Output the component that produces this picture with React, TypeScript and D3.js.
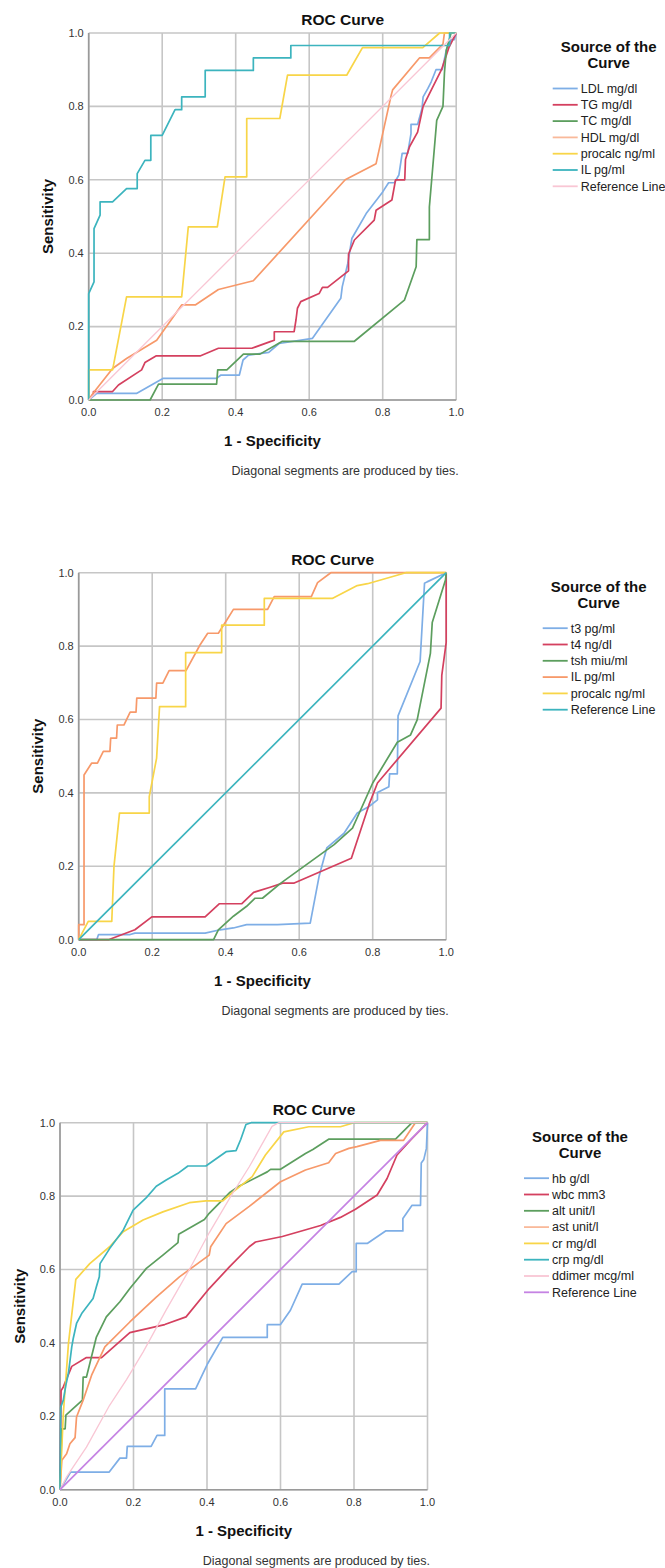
import React from "react";
import * as d3 from "d3";

type Pt = [number, number];

const FONT = "'Liberation Sans', Arial, sans-serif";
const TICKS = [0, 0.2, 0.4, 0.6, 0.8, 1.0];

// ---- panel 1: lipids ----
const ldlMg: Pt[] = [[0,0],[0.022,0.018],[0.13,0.018],[0.203,0.059],[0.348,0.059],[0.36,0.068],[0.41,0.068],[0.42,0.109],[0.435,0.122],[0.49,0.13],[0.518,0.154],[0.609,0.168],[0.686,0.277],[0.69,0.309],[0.705,0.372],[0.716,0.44],[0.755,0.508],[0.8,0.567],[0.816,0.592],[0.832,0.592],[0.844,0.613],[0.853,0.672],[0.868,0.672],[0.877,0.726],[0.877,0.751],[0.895,0.751],[0.907,0.794],[0.91,0.826],[0.923,0.849],[0.932,0.867],[0.945,0.9],[0.962,0.9],[0.973,0.953],[0.986,0.982],[0.995,0.982],[1,1]];
const tgMg: Pt[] = [[0,0],[0.013,0.018],[0.013,0.023],[0.065,0.023],[0.081,0.041],[0.144,0.082],[0.153,0.102],[0.183,0.12],[0.303,0.12],[0.353,0.141],[0.444,0.141],[0.494,0.159],[0.505,0.163],[0.505,0.186],[0.559,0.186],[0.564,0.218],[0.568,0.25],[0.577,0.268],[0.627,0.29],[0.636,0.307],[0.65,0.307],[0.707,0.352],[0.707,0.397],[0.723,0.436],[0.777,0.49],[0.782,0.517],[0.825,0.545],[0.835,0.6],[0.86,0.6],[0.862,0.655],[0.873,0.69],[0.895,0.73],[0.91,0.8],[0.93,0.84],[0.96,0.9],[0.98,0.96],[1,1]];
const tcMg: Pt[] = [[0,0],[0.167,0],[0.19,0.043],[0.348,0.043],[0.351,0.082],[0.376,0.082],[0.421,0.125],[0.466,0.125],[0.527,0.16],[0.723,0.16],[0.859,0.272],[0.891,0.363],[0.893,0.437],[0.927,0.437],[0.927,0.526],[0.947,0.762],[0.964,0.8],[0.968,0.891],[0.973,0.953],[0.986,1],[1,1]];
const hdlMg: Pt[] = [[0,0],[0.013,0.02],[0.065,0.086],[0.103,0.113],[0.185,0.163],[0.253,0.259],[0.29,0.259],[0.353,0.301],[0.448,0.325],[0.698,0.6],[0.782,0.644],[0.823,0.83],[0.827,0.845],[0.9,0.932],[0.927,0.932],[0.964,0.97],[0.968,1],[1,1]];
const procalc1: Pt[] = [[0,0],[0,0.082],[0.065,0.082],[0.103,0.281],[0.253,0.281],[0.271,0.472],[0.35,0.472],[0.371,0.608],[0.43,0.608],[0.43,0.767],[0.52,0.767],[0.541,0.885],[0.702,0.885],[0.745,0.96],[0.909,0.96],[0.955,1],[1,1]];
const il1: Pt[] = [[0,0],[0,0.29],[0.0145,0.322],[0.0145,0.467],[0.031,0.504],[0.031,0.54],[0.065,0.54],[0.103,0.576],[0.132,0.576],[0.132,0.617],[0.153,0.653],[0.169,0.653],[0.169,0.721],[0.2,0.721],[0.235,0.791],[0.253,0.791],[0.253,0.826],[0.317,0.826],[0.317,0.898],[0.448,0.898],[0.448,0.932],[0.55,0.932],[0.55,0.966],[0.982,0.966],[0.982,1],[1,1]];

// ---- panel 2: thyroid ----
const t3Pg: Pt[] = [[0,0],[0.049,0],[0.054,0.014],[0.14,0.014],[0.153,0.018],[0.344,0.018],[0.385,0.027],[0.421,0.032],[0.457,0.041],[0.541,0.041],[0.63,0.045],[0.654,0.172],[0.675,0.25],[0.722,0.29],[0.758,0.345],[0.79,0.363],[0.813,0.381],[0.813,0.401],[0.844,0.417],[0.846,0.452],[0.867,0.452],[0.869,0.61],[0.929,0.758],[0.941,0.971],[0.948,0.975],[1,1]];
const t4Ng: Pt[] = [[0,0],[0.081,0],[0.153,0.027],[0.199,0.062],[0.344,0.062],[0.383,0.098],[0.444,0.098],[0.476,0.129],[0.521,0.143],[0.555,0.154],[0.585,0.154],[0.742,0.222],[0.79,0.368],[0.813,0.427],[0.986,0.631],[0.988,0.72],[1,0.81],[1,1]];
const tshMiu: Pt[] = [[0,0],[0.367,0],[0.38,0.027],[0.421,0.064],[0.457,0.091],[0.48,0.113],[0.5,0.113],[0.55,0.154],[0.695,0.259],[0.745,0.304],[0.8,0.427],[0.867,0.538],[0.903,0.558],[0.921,0.599],[0.957,0.78],[0.962,0.864],[0.998,0.98],[1,1]];
const il2: Pt[] = [[0,0],[0,0.041],[0.0145,0.041],[0.0145,0.449],[0.035,0.481],[0.051,0.481],[0.067,0.513],[0.085,0.513],[0.087,0.549],[0.103,0.549],[0.105,0.585],[0.123,0.585],[0.14,0.62],[0.156,0.62],[0.158,0.658],[0.21,0.658],[0.212,0.699],[0.229,0.699],[0.246,0.733],[0.292,0.733],[0.33,0.803],[0.351,0.835],[0.38,0.835],[0.403,0.871],[0.421,0.9],[0.514,0.9],[0.532,0.935],[0.633,0.935],[0.65,0.973],[0.686,1],[1,1]];
const procalc2: Pt[] = [[0,0],[0.026,0.05],[0.09,0.05],[0.096,0.2],[0.111,0.345],[0.192,0.345],[0.192,0.39],[0.212,0.495],[0.22,0.635],[0.291,0.635],[0.291,0.782],[0.389,0.782],[0.389,0.857],[0.505,0.857],[0.505,0.93],[0.69,0.93],[0.758,0.965],[0.786,0.97],[0.89,1],[1,1]];

// ---- panel 3: blood markers ----
const hbG: Pt[] = [[0,0],[0.029,0.048],[0.134,0.048],[0.163,0.086],[0.181,0.086],[0.183,0.118],[0.248,0.118],[0.264,0.148],[0.285,0.148],[0.285,0.275],[0.369,0.275],[0.402,0.344],[0.443,0.415],[0.564,0.415],[0.564,0.45],[0.6,0.45],[0.627,0.489],[0.659,0.56],[0.759,0.56],[0.795,0.594],[0.806,0.594],[0.806,0.671],[0.836,0.671],[0.886,0.705],[0.933,0.705],[0.933,0.739],[0.958,0.775],[0.981,0.775],[0.983,0.89],[0.99,0.9],[0.997,0.93],[1,1]];
const wbcMm: Pt[] = [[0,0],[0.003,0.27],[0.009,0.28],[0.032,0.336],[0.072,0.36],[0.113,0.36],[0.19,0.428],[0.285,0.45],[0.343,0.471],[0.406,0.548],[0.461,0.607],[0.515,0.662],[0.532,0.675],[0.605,0.69],[0.65,0.703],[0.709,0.72],[0.763,0.742],[0.804,0.764],[0.863,0.803],[0.89,0.848],[0.917,0.912],[0.958,0.957],[1,1]];
const altUnit: Pt[] = [[0,0],[0.005,0.166],[0.014,0.166],[0.016,0.203],[0.061,0.244],[0.063,0.307],[0.072,0.307],[0.099,0.416],[0.126,0.471],[0.163,0.512],[0.19,0.548],[0.235,0.603],[0.28,0.639],[0.321,0.673],[0.323,0.696],[0.393,0.736],[0.406,0.753],[0.461,0.809],[0.487,0.827],[0.564,0.866],[0.573,0.873],[0.6,0.873],[0.668,0.916],[0.688,0.927],[0.731,0.955],[0.913,0.955],[0.958,1],[1,1]];
const astUnit: Pt[] = [[0,0],[0.005,0.08],[0.018,0.098],[0.027,0.125],[0.041,0.142],[0.045,0.198],[0.063,0.244],[0.086,0.312],[0.122,0.389],[0.19,0.457],[0.262,0.525],[0.325,0.58],[0.406,0.639],[0.41,0.662],[0.452,0.725],[0.515,0.772],[0.6,0.839],[0.668,0.871],[0.731,0.891],[0.75,0.916],[0.786,0.93],[0.808,0.935],[0.872,0.952],[0.935,0.952],[0.967,1],[1,1]];
const crMg: Pt[] = [[0,0],[0.009,0.207],[0.023,0.398],[0.043,0.573],[0.081,0.616],[0.135,0.662],[0.172,0.703],[0.226,0.735],[0.28,0.757],[0.352,0.782],[0.397,0.787],[0.443,0.787],[0.472,0.812],[0.523,0.853],[0.559,0.912],[0.609,0.975],[0.677,0.989],[0.763,0.989],[0.8,1],[1,1]];
const crpMg: Pt[] = [[0,0],[0.002,0.225],[0.009,0.244],[0.016,0.285],[0.023,0.318],[0.032,0.389],[0.036,0.412],[0.045,0.453],[0.059,0.48],[0.09,0.521],[0.099,0.553],[0.107,0.58],[0.109,0.616],[0.135,0.657],[0.172,0.707],[0.199,0.762],[0.235,0.796],[0.262,0.827],[0.289,0.844],[0.321,0.862],[0.348,0.882],[0.397,0.882],[0.452,0.921],[0.479,0.924],[0.492,0.955],[0.506,0.995],[0.52,1],[1,1]];
const ddimerMcg: Pt[] = [[0,0],[0.018,0.035],[0.036,0.062],[0.072,0.116],[0.135,0.23],[0.181,0.3],[0.226,0.375],[0.289,0.49],[0.352,0.6],[0.406,0.7],[0.465,0.8],[0.515,0.88],[0.577,0.99],[0.595,1],[1,1]];

const refLine: Pt[] = [[0,0],[1,1]];

const C = {
  blue: "#7eaee6",
  red: "#d4405f",
  green: "#5c9e5e",
  orange: "#f7996a",
  yellow: "#f8d548",
  teal: "#3cb4be",
  pink: "#f9c6d4",
  purple: "#c583e3",
};

interface Series {
  name: string;
  color: string;
  points: Pt[];
  legendColor?: string;
  thin?: boolean;
}

const panels: { left: number; top: number; series: Series[] }[] = [
  {
    left: 88.7,
    top: 33,
    series: [
      { name: "LDL mg/dl", color: C.blue, points: ldlMg },
      { name: "TG mg/dl", color: C.red, points: tgMg },
      { name: "TC mg/dl", color: C.green, points: tcMg },
      { name: "HDL mg/dl", color: C.orange, legendColor: "#f9b99a", points: hdlMg },
      { name: "procalc ng/ml", color: C.yellow, points: procalc1 },
      { name: "IL pg/ml", color: C.teal, points: il1 },
      { name: "Reference Line", color: C.pink, points: refLine, thin: true },
    ],
  },
  {
    left: 78.7,
    top: 572.7,
    series: [
      { name: "t3 pg/ml", color: C.blue, points: t3Pg },
      { name: "t4 ng/dl", color: C.red, points: t4Ng },
      { name: "tsh miu/ml", color: C.green, points: tshMiu },
      { name: "IL pg/ml", color: C.orange, points: il2 },
      { name: "procalc ng/ml", color: C.yellow, points: procalc2 },
      { name: "Reference Line", color: C.teal, points: refLine },
    ],
  },
  {
    left: 60,
    top: 1122.7,
    series: [
      { name: "hb g/dl", color: C.blue, points: hbG },
      { name: "wbc mm3", color: C.red, points: wbcMm },
      { name: "alt unit/l", color: C.green, points: altUnit },
      { name: "ast unit/l", color: C.orange, legendColor: "#f9b99a", points: astUnit },
      { name: "cr mg/dl", color: C.yellow, points: crMg },
      { name: "crp mg/dl", color: C.teal, points: crpMg },
      { name: "ddimer mcg/ml", color: C.pink, points: ddimerMcg, thin: true },
      { name: "Reference Line", color: C.purple, points: refLine },
    ],
  },
];

const PLOT_W = 367.5;
const PLOT_H = 367;

const RocPanel: React.FC<{ left: number; top: number; series: Series[] }> = ({ left, top, series }) => {
  const x = d3.scaleLinear().domain([0, 1]).range([left, left + PLOT_W]);
  const y = d3.scaleLinear().domain([0, 1]).range([top + PLOT_H, top]);
  const line = d3
    .line<Pt>()
    .x((d) => x(d[0]))
    .y((d) => y(d[1]));
  const fmt = d3.format(".1f");
  const bottom = top + PLOT_H;

  return (
    <g fontFamily={FONT}>
      {/* title */}
      <text x={left + 254} y={top - 13} dy="0.35em" textAnchor="middle" fontSize={15.5} fontWeight="bold" fill="#111">
        ROC Curve
      </text>

      {/* grid */}
      {TICKS.map((t) => (
        <g key={"g" + t}>
          <line x1={x(t)} x2={x(t)} y1={top} y2={bottom} stroke="#c6c6c6" strokeWidth={1.6} />
          <line x1={left} x2={left + PLOT_W} y1={y(t)} y2={y(t)} stroke="#c6c6c6" strokeWidth={1.6} />
        </g>
      ))}
      <line x1={left} x2={left} y1={top} y2={bottom} stroke="#9a9a9a" strokeWidth={1.6} />
      <line x1={left} x2={left + PLOT_W} y1={bottom} y2={bottom} stroke="#9a9a9a" strokeWidth={1.6} />

      {/* tick labels */}
      {TICKS.map((t) => (
        <text key={"xt" + t} x={x(t)} y={bottom + 12.5} dy="0.35em" textAnchor="middle" fontSize={11} fill="#333">
          {fmt(t)}
        </text>
      ))}
      {TICKS.map((t) => (
        <text key={"yt" + t} x={left - 5} y={y(t)} dy="0.35em" textAnchor="end" fontSize={11} fill="#333">
          {fmt(t)}
        </text>
      ))}

      {/* curves */}
      {series.map((s) => (
        <path
          key={s.name}
          d={line(s.points) || ""}
          fill="none"
          stroke={s.color}
          strokeWidth={s.thin ? 1.3 : 1.7}
          strokeLinejoin="round"
        />
      ))}

      {/* axis titles */}
      <text x={left + PLOT_W / 2} y={bottom + 41} dy="0.35em" textAnchor="middle" fontSize={15} fontWeight="bold" fill="#111">
        1 - Specificity
      </text>
      <text
        transform={`translate(${left - 40.5},${top + PLOT_H / 2}) rotate(-90)`}
        dy="0.35em"
        textAnchor="middle"
        fontSize={15}
        fontWeight="bold"
        fill="#111"
      >
        Sensitivity
      </text>
      <text x={left + 370} y={bottom + 71} dy="0.35em" textAnchor="end" fontSize={12.5} fill="#333">
        Diagonal segments are produced by ties.
      </text>

      {/* legend */}
      <text x={left + 520} y={top + 13.7} dy="0.35em" textAnchor="middle" fontSize={15} fontWeight="bold" fill="#111">
        Source of the
      </text>
      <text x={left + 520} y={top + 30} dy="0.35em" textAnchor="middle" fontSize={15} fontWeight="bold" fill="#111">
        Curve
      </text>
      {series.map((s, i) => {
        const ly = top + 55.5 + i * 16.3;
        return (
          <g key={"lg" + s.name}>
            <line x1={left + 464} x2={left + 489} y1={ly} y2={ly} stroke={s.legendColor || s.color} strokeWidth={1.8} />
            <text x={left + 492} y={ly} dy="0.35em" fontSize={12.5} fill="#222">
              {s.name}
            </text>
          </g>
        );
      })}
    </g>
  );
};

export default function App() {
  return (
    <div style={{ position: "absolute", left: 0, top: 0 }}>
      <svg width={665} height={1568} style={{ display: "block", background: "#fff" }}>
        {panels.map((p, i) => (
          <RocPanel key={i} left={p.left} top={p.top} series={p.series} />
        ))}
      </svg>
    </div>
  );
}
